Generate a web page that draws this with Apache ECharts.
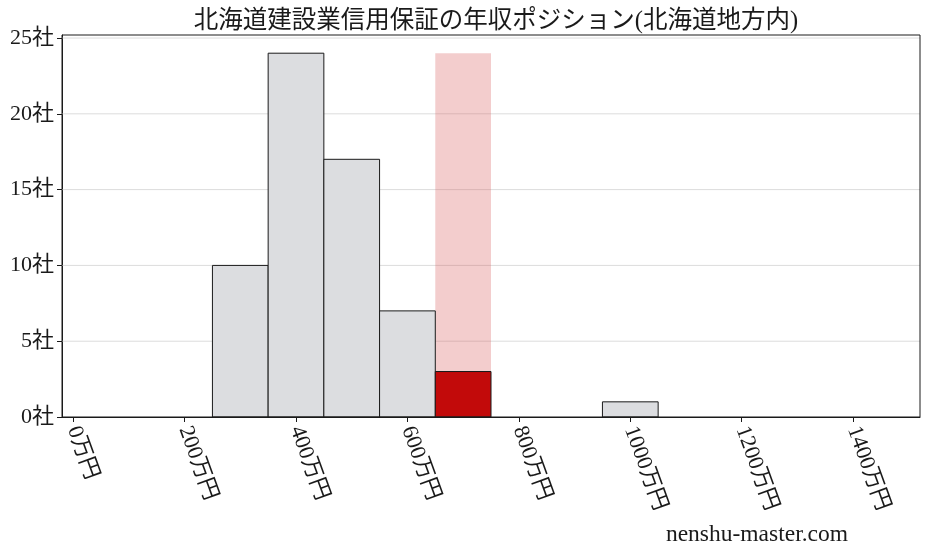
<!DOCTYPE html>
<html lang="ja">
<head>
    <meta charset="UTF-8">
    <script src="https://cdn.jsdelivr.net/npm/echarts@6/dist/echarts.min.js"></script>
    <title>年収ポジション</title>
    <style>
        html, body { margin: 0; padding: 0; background: #fff; }
    </style>
</head>
<body>
<div id="chartmain" style="width:928px; height:557px;"></div>
<script type="text/javascript">
    // 年収の階級（万円）と社数
    var binStart = [250, 350, 450, 550, 650, 950];
    var binEnd   = [350, 450, 550, 650, 750, 1050];
    var counts   = [10, 24, 17, 7, 3, 1];
    var ownBin   = 4;              // 当社が入る階級
    var xTicks   = [0, 200, 400, 600, 800, 1000, 1200, 1400];
    var yTicks   = [0, 5, 10, 15, 20, 25];

    var font = '"Liberation Serif", "Noto Sans CJK JP", serif';
    var maxCount = Math.max.apply(null, counts);

    var histData = binStart.map(function (s, i) {
        return [s, binEnd[i], counts[i], i === ownBin ? 1 : 0];
    });
    var bandData = [[binStart[ownBin], binEnd[ownBin], maxCount]];

    function renderBox(params, api) {
        var p0 = api.coord([api.value(0), 0]);
        var p1 = api.coord([api.value(1), api.value(2)]);
        return {
            type: 'rect',
            shape: { x: p0[0], y: p1[1], width: p1[0] - p0[0], height: p0[1] - p1[1] },
            style: api.style()
        };
    }

    var myChart = echarts.init(document.getElementById('chartmain'));
    myChart.setOption({
        animation: false,
        title: {
            text: '北海道建設業信用保証の年収ポジション(北海道地方内)',
            left: 491,
            textAlign: 'center',
            top: 4,
            textStyle: { fontFamily: font, fontSize: 24.5, fontWeight: 'normal', color: '#1a1a1a' }
        },
        graphic: [{
            type: 'text',
            right: 80,
            top: 523,
            style: { text: 'nenshu-master.com', font: '23.5px ' + font, fill: '#1a1a1a' }
        }, {
            type: 'rect',
            shape: { x: 62, y: 35, width: 858, height: 382 },
            style: { fill: 'none', stroke: '#1a1a1a', lineWidth: 1 },
            z: 10
        }],
        grid: { left: 62, right: 8, top: 35, bottom: 140 },
        xAxis: {
            type: 'value',
            min: -20,
            max: 1520,
            splitLine: { show: false },
            axisLine: { show: true, onZero: false, lineStyle: { color: '#1a1a1a' } },
            axisTick: { show: true, length: 5, customValues: xTicks, lineStyle: { color: '#1a1a1a' } },
            axisLabel: {
                customValues: xTicks,
                rotate: -70,
                margin: 10,
                fontFamily: font,
                fontSize: 22,
                color: '#1a1a1a',
                formatter: function (v) { return v + '万円'; }
            }
        },
        yAxis: {
            type: 'value',
            min: 0,
            max: maxCount * 1.05,
            splitLine: { show: false },
            axisLine: { show: true, onZero: false, lineStyle: { color: '#1a1a1a' } },
            axisTick: { show: true, length: 5, customValues: yTicks, lineStyle: { color: '#1a1a1a' } },
            axisLabel: {
                customValues: yTicks,
                margin: 8,
                fontFamily: font,
                fontSize: 22,
                color: '#1a1a1a',
                formatter: function (v) { return v + '社'; }
            }
        },
        series: [{
            // 横グリッド
            type: 'custom',
            silent: true,
            data: yTicks.slice(1),
            renderItem: function (params, api) {
                var a = api.coord([-20, api.value(0)]);
                var b = api.coord([1520, api.value(0)]);
                return {
                    type: 'line',
                    shape: { x1: a[0], y1: a[1], x2: b[0], y2: b[1] },
                    style: { stroke: '#dcdcdc', lineWidth: 1 }
                };
            },
            z: 1
        }, {
            // 当社の階級の帯
            type: 'custom',
            data: bandData,
            encode: { x: [0, 1], y: 2 },
            renderItem: renderBox,
            itemStyle: { color: 'rgba(214, 88, 88, 0.3)' },
            z: 2
        }, {
            type: 'custom',
            data: histData,
            encode: { x: [0, 1], y: 2 },
            renderItem: function (params, api) {
                var el = renderBox(params, api);
                el.style.fill = api.value(3) ? '#c20a0a' : '#dcdde0';
                el.style.stroke = '#1a1a1a';
                el.style.lineWidth = 1;
                return el;
            },
            z: 3
        }]
    });
</script>
</body>
</html>
